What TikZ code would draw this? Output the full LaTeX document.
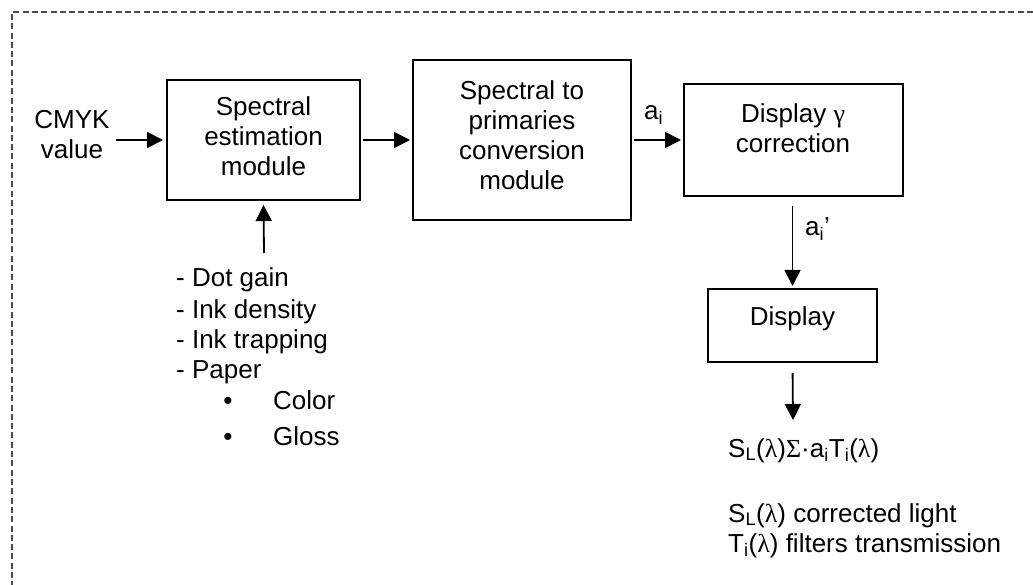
\documentclass[tikz,border=0pt]{standalone}
\usepackage{fontspec}
\setmainfont{Liberation Sans}
\newfontfamily\grk{Liberation Serif}
\usetikzlibrary{arrows.meta}
\newcommand{\lam}{{\grk λ}}
\newcommand{\sub}[1]{\textsubscript{#1}}
\tikzset{
  box/.style={draw=black, line width=2pt, inner sep=0pt},
  txt/.style={font=\fontsize{26}{30}\selectfont, inner sep=0pt, align=center},
  ltxt/.style={font=\fontsize{26}{30}\selectfont, inner sep=0pt},
  arr/.style={draw=black, line width=1.8pt, -{Triangle[length=16pt,width=16pt]}},
  border/.style={draw=black!70, line width=1.3pt, dash pattern=on 6pt off 3.3pt}
}
\begin{document}
\begin{tikzpicture}[x=1pt,y=-1pt]
\useasboundingbox (0,0) rectangle (1033,585);
\fill[white] (0,0) rectangle (1033,585);
\draw[border] (1033,12) -- (12,12) -- (12,585);

% boxes
\node[box, minimum width=193pt, minimum height=120pt] (b1) at (263.5,140) {};
\node[box, minimum width=218pt, minimum height=160pt] (b2) at (522,140) {};
\node[box, minimum width=219pt, minimum height=112pt] (b3) at (793.5,140) {};
\node[box, minimum width=169pt, minimum height=73pt] (disp) at (792.5,325.5) {};

% box texts
\node[txt, anchor=north] (t1) at (263.5,96) {Spectral\\estimation\\module};
\node[txt, anchor=north] (t2) at (522,80) {Spectral to\\primaries\\conversion\\module};
\node[txt, anchor=north] (t3) at (793,103) {Display {\grk γ}\\correction};
\node[ltxt, anchor=base] (t4) at (792.5,325) {Display};

% input
\node[txt, anchor=north] (cmyk) at (72,110) {CMYK\\value};

% list
\node[ltxt, anchor=base west] (l1) at (176,287) {- Dot gain};
\node[ltxt, anchor=base west] (l2) at (176,318) {- Ink density};
\node[ltxt, anchor=base west] (l3) at (176,348) {- Ink trapping};
\node[ltxt, anchor=base west] (l4) at (176,378) {- Paper};
\node[ltxt, anchor=base] (bu1) at (228,409) {•};
\node[ltxt, anchor=base west] (l5) at (273,409) {Color};
\node[ltxt, anchor=base] (bu2) at (228,445) {•};
\node[ltxt, anchor=base west] (l6) at (273,445) {Gloss};

% labels
\node[ltxt, anchor=base west] (ai) at (644,120) {a\sub{i}};
\node[ltxt, anchor=base west] (aip) at (805,236) {a\sub{i}’};

% formula
\node[ltxt, anchor=base west] (f1) at (728,457) {S\sub{L}(\lam){\grk Σ}·a\sub{i}T\sub{i}(\lam)};
\node[ltxt, anchor=base west] (f2) at (728,522) {S\sub{L}(\lam) corrected light};
\node[ltxt, anchor=base west] (f3) at (728,552) {T\sub{i}(\lam) filters transmission};

% connectors
\coordinate (cin) at (116,140);
\coordinate (lt) at (264,253);
\coordinate (fend) at (793,420);
\draw[arr, shorten >=3pt] (cin) -- (b1.west);
\draw[arr, shorten <=2pt, shorten >=2pt] (b1.east) -- (b2.west);
\draw[arr, shorten <=2pt, shorten >=2pt] (b2.east) -- (b3.west);
\draw[arr, shorten >=4pt] (lt) -- (b1.south);
\draw[arr, shorten <=9pt, shorten >=2pt] (b3.south -| disp.north) -- (disp.north);
\draw[arr, shorten <=10pt] (disp.south) -- (fend);
\end{tikzpicture}
\end{document}
